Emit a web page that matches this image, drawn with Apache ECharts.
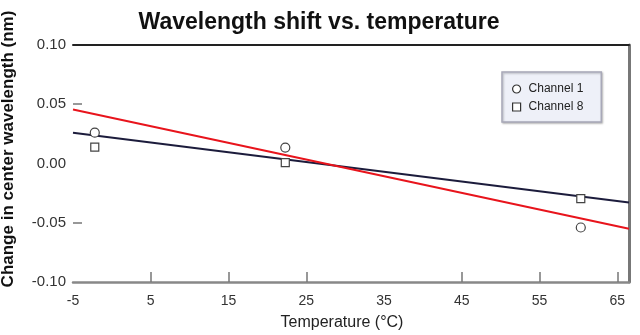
<!DOCTYPE html>
<html>
<head>
<meta charset="utf-8">
<script src="https://cdn.jsdelivr.net/npm/echarts@6/dist/echarts.min.js"></script>
<style>
  html, body { margin: 0; padding: 0; background: #fff; }
  #chart { width: 640px; height: 335px; }
</style>
</head>
<body>
<div id="chart"></div>
<script>
// Measured wavelength shift per channel at three temperatures
const temperatures = [-2.2, 22.3, 60.3];
const channel1 = [0.026, 0.0134, -0.054];
const channel8 = [0.0138, 0.0007, -0.0297];

// Fitted trend lines, given by their end points
const fitX = [-5, 66.5];
const fitBlack = [0.0259, -0.0329];
const fitRed = [0.0456, -0.0551];

// Axis ticks
const xTicks = [5, 15, 25, 45, 55, 65];
const yTicks = [-0.05, 0.05];

const pairs = (xs, ys) => xs.map((x, i) => [x, ys[i]]);

const FONT = '"Liberation Sans", Arial, sans-serif';

const chart = echarts.init(document.getElementById('chart'), null, { renderer: 'canvas' });

chart.setOption({
  animation: false,
  backgroundColor: '#fff',
  title: {
    text: 'Wavelength shift vs. temperature',
    left: 314,
    textAlign: 'center',
    top: 6,
    textStyle: { fontFamily: FONT, fontSize: 23, fontWeight: 'bold', color: '#111' }
  },
  graphic: [
    {
      type: 'text',
      x: 8,
      y: 149,
      rotation: Math.PI / 2,
      style: {
        text: 'Change in center wavelength (nm)',
        fontFamily: FONT, fontSize: 17, fontWeight: 'bold', fill: '#111',
        align: 'center', verticalAlign: 'middle'
      },
      originX: 0, originY: 0
    },
    {
      type: 'text',
      x: 342,
      y: 323,
      style: {
        text: 'Temperature (°C)',
        fontFamily: FONT, fontSize: 16, fill: '#222',
        align: 'center', verticalAlign: 'middle'
      }
    }
  ],
  legend: {
    orient: 'vertical',
    left: 502,
    top: 72,
    padding: [11, 18, 9, 10],
    itemGap: 6,
    itemWidth: 8,
    itemHeight: 8,
    backgroundColor: '#eef0f8',
    borderColor: '#a8a8b8',
    borderWidth: 1.5,
    shadowColor: 'rgba(0,0,0,0.25)',
    shadowBlur: 2,
    shadowOffsetX: 1,
    shadowOffsetY: 1,
    textStyle: { fontFamily: FONT, fontSize: 12, color: '#222', padding: [0, 0, 0, 3] },
    data: [
      { name: 'Channel 1', icon: 'circle' },
      { name: 'Channel 8', icon: 'rect' }
    ],
    itemStyle: { color: '#fff', borderColor: '#333', borderWidth: 1.2 }
  },
  grid: { left: 73, right: 11, top: 45, bottom: 53 },
  xAxis: [
    {
      type: 'value',
      min: -5,
      max: 66.5,
      interval: 10,
      axisLine: { show: true, onZero: false, lineStyle: { color: '#888', width: 2.5 } },
      axisTick: { show: true, inside: true, length: 10, customValues: xTicks, lineStyle: { color: '#777', width: 1.5 } },
      axisLabel: {
        fontFamily: FONT, fontSize: 14, color: '#333', margin: 12,
        showMaxLabel: false,
        formatter: v => (v > 66 ? '' : String(v))
      },
      splitLine: { show: false }
    },
    {
      type: 'value',
      position: 'top',
      min: -5,
      max: 66.5,
      axisLine: { show: true, onZero: false, lineStyle: { color: '#222', width: 2 } },
      axisTick: { show: false },
      axisLabel: { show: false },
      splitLine: { show: false }
    }
  ],
  yAxis: [
    {
      type: 'value',
      min: -0.1,
      max: 0.1,
      interval: 0.05,
      axisLine: { show: false, onZero: false },
      axisTick: { show: true, inside: true, length: 9, customValues: yTicks, lineStyle: { color: '#777', width: 1.5 } },
      axisLabel: {
        fontFamily: FONT, fontSize: 15, color: '#333', margin: 7,
        formatter: v => v.toFixed(2)
      },
      splitLine: { show: false }
    },
    {
      type: 'value',
      position: 'right',
      min: -0.1,
      max: 0.1,
      axisLine: { show: true, onZero: false, lineStyle: { color: '#777', width: 3 } },
      axisTick: { show: false },
      axisLabel: { show: false },
      splitLine: { show: false }
    }
  ],
  series: [
    {
      name: 'fit-black',
      type: 'line',
      data: pairs(fitX, fitBlack),
      symbol: 'none',
      lineStyle: { color: '#1c1c3c', width: 2 },
      z: 2,
      silent: true
    },
    {
      name: 'fit-red',
      type: 'line',
      data: pairs(fitX, fitRed),
      symbol: 'none',
      lineStyle: { color: '#e8141c', width: 2 },
      z: 2,
      silent: true
    },
    {
      name: 'Channel 1',
      type: 'scatter',
      data: pairs(temperatures, channel1),
      symbol: 'circle',
      symbolSize: 9,
      itemStyle: { color: '#fff', borderColor: '#444', borderWidth: 1.2, opacity: 1 },
      z: 3
    },
    {
      name: 'Channel 8',
      type: 'scatter',
      data: pairs(temperatures, channel8),
      symbol: 'rect',
      symbolSize: 8,
      itemStyle: { color: '#fff', borderColor: '#444', borderWidth: 1.2, opacity: 1 },
      z: 3
    }
  ]
});
</script>
</body>
</html>
